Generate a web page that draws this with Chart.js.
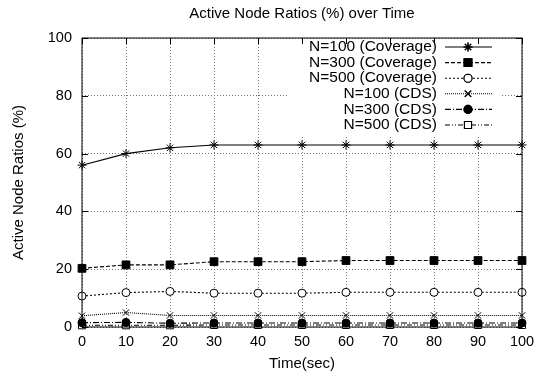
<!DOCTYPE html>
<html><head><meta charset="utf-8"><title>Active Node Ratios</title>
<script src="https://cdn.jsdelivr.net/npm/chart.js"></script>
<style>body{margin:0;background:#fff}</style></head>
<body>
<canvas id="ratioChart" width="537" height="374"></canvas>
<script>
const times = [0, 10, 20, 30, 40, 50, 60, 70, 80, 90, 100];
const cov100 = [56, 60, 62, 63, 63, 63, 63, 63, 63, 63, 63];
const cov300 = [20.3, 21.5, 21.5, 22.6, 22.6, 22.6, 23, 23, 23, 23, 23];
const cov500 = [10.7, 11.9, 12.3, 11.7, 11.7, 11.7, 12, 12, 12, 12, 12];
const cds100 = [3.9, 5, 4, 4, 4, 4, 4, 4, 4, 4, 4];
const cds300 = [1.5, 1.6, 1.3, 1.4, 1.4, 1.4, 1.4, 1.4, 1.4, 1.4, 1.4];
const cds500 = [0.6, 0.6, 0.6, 0.7, 0.7, 0.7, 0.7, 0.7, 0.7, 0.7, 0.7];
const labels = ['N=100 (Coverage)', 'N=300 (Coverage)', 'N=500 (Coverage)', 'N=100 (CDS)', 'N=300 (CDS)', 'N=500 (CDS)'];

const FONT = '"Liberation Sans", Arial, sans-serif';
const styles = [
  {dash: [], point: 'star', r: 4.5, fill: '#000'},
  {dash: [4, 2], point: 'rect', r: 5.5, fill: '#000'},
  {dash: [2, 2], point: 'circle', r: 4, fill: '#fff'},
  {dash: [1, 1], point: 'crossRot', r: 4.5, fill: '#fff'},
  {dash: [6, 2, 1, 2], point: 'circle', r: 4, fill: '#000'},
  {dash: [5, 2, 1, 2, 1, 2], point: 'rect', r: 5, fill: '#fff'}
];
const series = [cov100, cov300, cov500, cds100, cds300, cds500];

const datasets = series.map((vals, i) => ({
  label: labels[i],
  data: times.map((t, j) => ({x: t, y: vals[j]})),
  borderColor: '#000',
  borderWidth: 1.1,
  borderDash: styles[i].dash,
  pointStyle: styles[i].point,
  pointRadius: styles[i].r,
  pointBackgroundColor: styles[i].fill,
  pointBorderColor: '#000',
  pointBorderWidth: 1,
  tension: 0,
  clip: false
}));

const frame = {
  id: 'frame',
  beforeDatasetsDraw(chart) {
    const ctx = chart.ctx;
    ctx.save();
    ctx.fillStyle = '#fff';
    ctx.fillRect(288, 39, 212, 96);
    ctx.restore();
  },
  afterDatasetsDraw(chart) {
    const ctx = chart.ctx;
    const a = chart.chartArea;
    const xs = chart.scales.x, ys = chart.scales.y;
    ctx.save();
    // legend
    ctx.font = '15.5px ' + FONT;
    ctx.textAlign = 'right';
    ctx.textBaseline = 'middle';
    ctx.fillStyle = '#000';
    chart.data.datasets.forEach((ds, i) => {
      const y = 47 + i * 15.6;
      ctx.fillText(ds.label, 437, y);
      ctx.strokeStyle = '#000';
      ctx.lineWidth = 1.1;
      ctx.setLineDash(ds.borderDash);
      ctx.beginPath();
      ctx.moveTo(445, y); ctx.lineTo(492, y);
      ctx.stroke();
      ctx.setLineDash([]);
      Chart.helpers.drawPoint(ctx, {
        pointStyle: ds.pointStyle, radius: ds.pointRadius, borderWidth: 1, rotation: 0
      }, 468, y);
      ctx.fillStyle = ds.pointBackgroundColor;
      ctx.fill();
      ctx.stroke();
      ctx.fillStyle = '#000';
    });
    // frame and inside ticks
    ctx.strokeStyle = '#000';
    ctx.lineWidth = 1;
    ctx.setLineDash([]);
    ctx.strokeRect(a.left, a.top, a.right - a.left, a.bottom - a.top);
    ctx.beginPath();
    xs.ticks.forEach(t => {
      const px = Math.round(xs.getPixelForValue(t.value)) + 0.5;
      ctx.moveTo(px, a.bottom); ctx.lineTo(px, a.bottom - 6);
      ctx.moveTo(px, a.top); ctx.lineTo(px, a.top + 6);
    });
    ys.ticks.forEach(t => {
      const py = Math.round(ys.getPixelForValue(t.value)) + 0.5;
      ctx.moveTo(a.left, py); ctx.lineTo(a.left + 6, py);
      ctx.moveTo(a.right, py); ctx.lineTo(a.right - 6, py);
    });
    ctx.stroke();
    ctx.restore();
  }
};

new Chart(document.getElementById('ratioChart'), {
  type: 'line',
  data: { datasets },
  plugins: [frame],
  options: {
    responsive: false,
    animation: false,
    layout: { padding: { left: 0, right: 15, top: 0, bottom: 0 } },
    plugins: {
      legend: { display: false },
      tooltip: { enabled: false },
      title: {
        display: true,
        fullSize: false,
        text: 'Active Node Ratios (%) over Time',
        color: '#000',
        font: { family: FONT, size: 15, weight: 'normal' },
        padding: { top: 5, bottom: 15 }
      }
    },
    scales: {
      x: {
        type: 'linear', min: 0, max: 100,
        afterFit: s => { s.height = 47; s.paddingLeft = 0; s.paddingRight = 0; },
        ticks: { stepSize: 10, color: '#000', padding: 6, font: { family: FONT, size: 14.5 } },
        grid: { color: '#777', drawTicks: false },
        border: { display: false, dash: [1, 2] },
        title: { display: true, text: 'Time(sec)', color: '#000', padding: { top: 0, bottom: 1 }, font: { family: FONT, size: 15 } }
      },
      y: {
        min: 0, max: 100,
        afterFit: s => { s.width = 82; },
        ticks: { stepSize: 20, color: '#000', padding: 10, font: { family: FONT, size: 14.5 } },
        grid: { color: '#777', drawTicks: false },
        border: { display: false, dash: [1, 2] },
        title: { display: true, text: 'Active Node Ratios (%)', color: '#000', padding: { top: 10, bottom: 0 }, font: { family: FONT, size: 15 } }
      }
    }
  }
});
</script></body></html>
